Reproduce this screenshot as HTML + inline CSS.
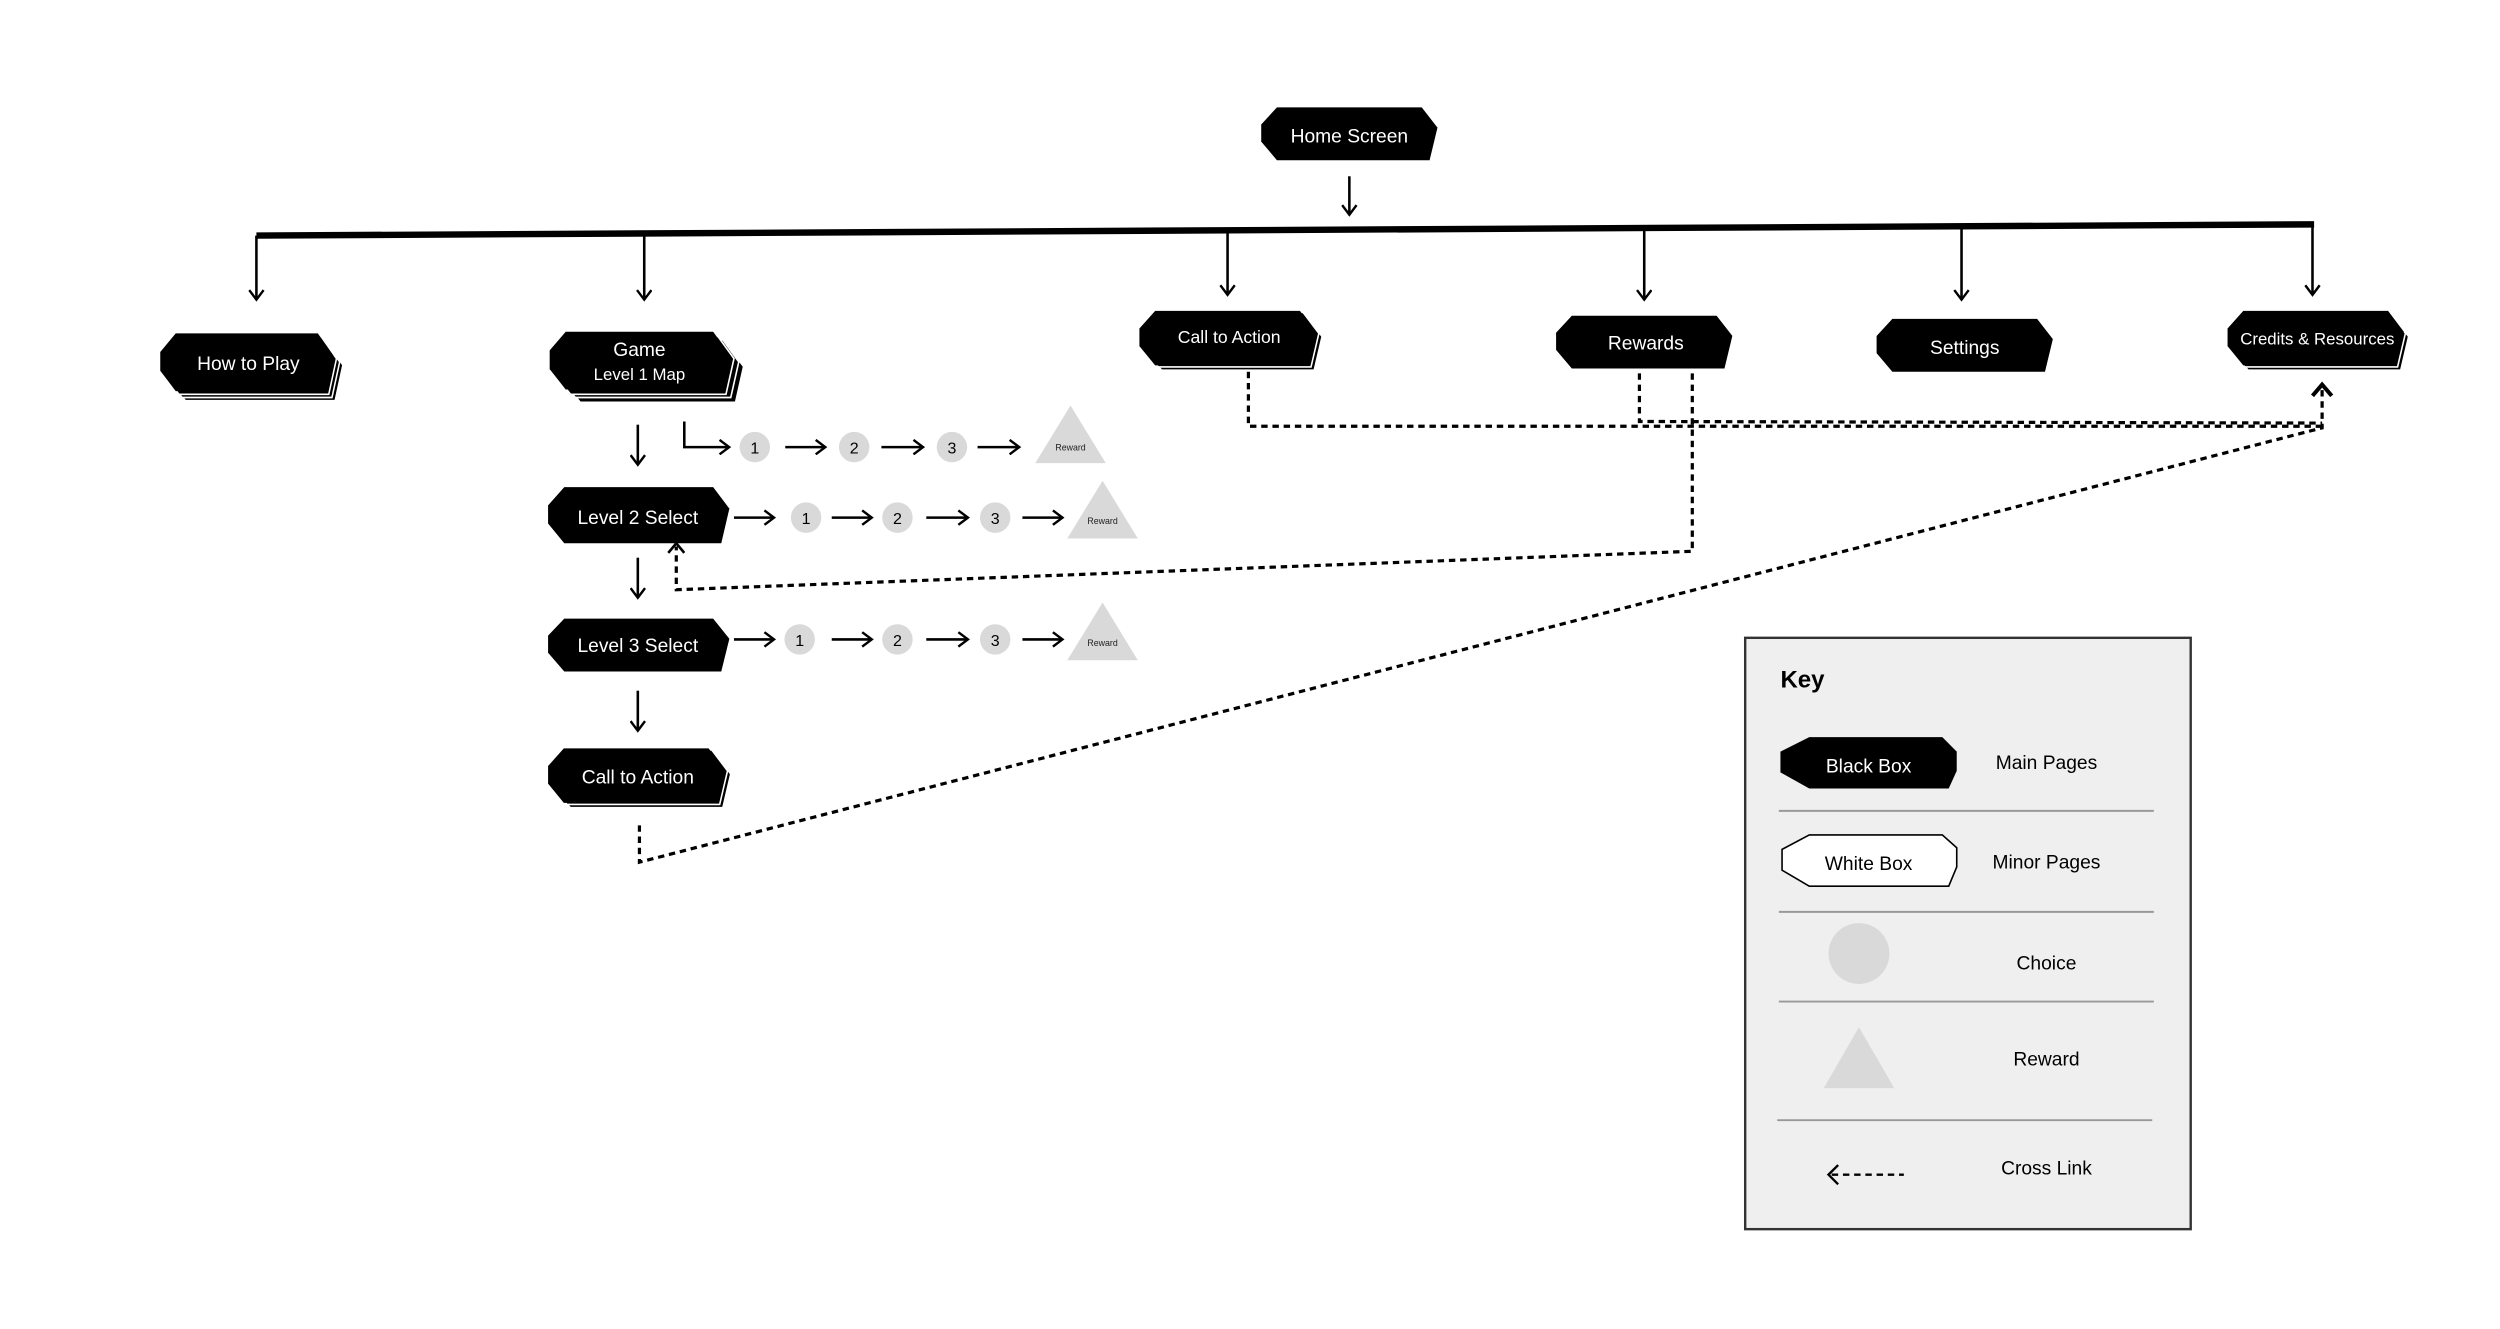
<!DOCTYPE html>
<html><head><meta charset="utf-8"><style>html,body{margin:0;padding:0;background:#fff}svg{display:block}text{font-family:"Liberation Sans",sans-serif}</style></head>
<body>
<svg width="2500" height="1329" viewBox="0 0 1560 829.3" xmlns="http://www.w3.org/2000/svg">
<defs>
<marker id="ah" markerWidth="10" markerHeight="10" refX="7" refY="5" orient="auto" markerUnits="userSpaceOnUse"><path d="M1,0.5 L7,5 L1,9.5" fill="none" stroke="#000" stroke-width="1.5"/></marker>
<marker id="ahb" markerWidth="12" markerHeight="12" refX="8" refY="6" orient="auto" markerUnits="userSpaceOnUse"><path d="M1,1 L8,6 L1,11" fill="none" stroke="#000" stroke-width="2"/></marker>
<polygon id="bx" points="10,0 102,0 112,13 107,34 10,34 0,22 0,11"/>
</defs>
<rect width="1560" height="830" fill="#fff"/>

<!-- bus -->
<path d="M160,147 L1444,140" stroke="#000" stroke-width="4" fill="none"/>
<g stroke="#000" stroke-width="1.6" fill="none" marker-end="url(#ah)">
<path d="M842,110 L842,134"/>
<path d="M160,147 L160,187"/>
<path d="M402,146 L402,187"/>
<path d="M766,144 L766,184"/>
<path d="M1026,143 L1026,187"/>
<path d="M1224,142 L1224,187"/>
<path d="M1443,140 L1443,184"/>
<path d="M398,265 L398,290"/>
<path d="M398,348 L398,373"/>
<path d="M398,431 L398,456"/>
<path d="M427,263 L427,279 L455,279"/>
<path d="M490,279 L515,279"/><path d="M550,279 L576,279"/><path d="M610,279 L636,279"/>
<path d="M458,323 L483,323"/><path d="M519,323 L544,323"/><path d="M578,323 L604,323"/><path d="M638,323 L663,323"/>
<path d="M458,399 L483,399"/><path d="M519,399 L544,399"/><path d="M578,399 L604,399"/><path d="M638,399 L663,399"/>
</g>

<!-- choice circles & rewards -->
<g fill="#d9d9d9">
<circle cx="471" cy="279" r="9.5"/><circle cx="533" cy="279" r="9.5"/><circle cx="594" cy="279" r="9.5"/>
<circle cx="503" cy="323" r="9.5"/><circle cx="560" cy="323" r="9.5"/><circle cx="621" cy="323" r="9.5"/>
<circle cx="499" cy="399" r="9.5"/><circle cx="560" cy="399" r="9.5"/><circle cx="621" cy="399" r="9.5"/>
<polygon points="668,253 690,289 646,289"/>
<polygon points="688,300 710,336 666,336"/>
<polygon points="688,376 710,412 666,412"/>
</g>
<g font-size="10" text-anchor="middle" fill="#000">
<text x="471" y="283">1</text><text x="533" y="283">2</text><text x="594" y="283">3</text>
<text x="503" y="327">1</text><text x="560" y="327">2</text><text x="621" y="327">3</text>
<text x="499" y="403">1</text><text x="560" y="403">2</text><text x="621" y="403">3</text>
</g>
<g font-size="5.5" text-anchor="middle" fill="#222">
<text x="668" y="281">Reward</text><text x="688" y="327">Reward</text><text x="688" y="403">Reward</text>
</g>

<!-- dashed cross links -->
<g stroke="#000" stroke-width="2" fill="none" stroke-dasharray="4,3">
<path d="M779,232 L779,266 L1449,266"/>
<path d="M1023,233 L1023,263 L1449,264"/>
<path d="M1056,233 L1056,344 L422,368 L422,341"/>
<path d="M399,515 L399,538 L1449,267 L1449,243"/>
</g>
<path d="M417,345 L422,339 L427,345" stroke="#000" stroke-width="1.6" fill="none"/>
<path d="M1443,247 L1449,240 L1455,247" stroke="#000" stroke-width="2.5" fill="none"/>

<!-- nodes -->
<g stroke="#fff" stroke-width="1" fill="#000">
<!-- shadows -->
<use href="#bx" transform="translate(106,214) scale(0.964,1.06)" vector-effect="non-scaling-stroke"/>
<use href="#bx" transform="translate(104,212) scale(0.964,1.06)"/>
<use href="#bx" transform="translate(102,210) scale(0.964,1.06)"/>
<use href="#bx" transform="translate(352,215) scale(1,1.06)"/>
<use href="#bx" transform="translate(349,212) scale(1,1.06)"/>
<use href="#bx" transform="translate(346,210) scale(1,1.06)"/>
<use href="#bx" transform="translate(715,197) scale(0.982,1)"/>
<use href="#bx" transform="translate(713,195) scale(0.982,1)"/>
<use href="#bx" transform="translate(1393,197) scale(0.982,1)"/>
<use href="#bx" transform="translate(1391,195) scale(0.982,1)"/>
<use href="#bx" transform="translate(346,470) scale(0.982,1)"/>
<use href="#bx" transform="translate(344,468) scale(0.982,1)"/>
</g>
<g fill="#000">
<use href="#bx" transform="translate(787,67) scale(0.982,0.97)"/>
<use href="#bx" transform="translate(100,208) scale(0.964,1.06)"/>
<use href="#bx" transform="translate(343,207) scale(1,1.06)"/>
<use href="#bx" transform="translate(711,194) scale(0.982,1)"/>
<use href="#bx" transform="translate(971,197) scale(0.982,0.97)"/>
<use href="#bx" transform="translate(1171,199) scale(0.982,0.97)"/>
<use href="#bx" transform="translate(1390,194) scale(0.982,1)"/>
<use href="#bx" transform="translate(342,304) scale(1.01,1.03)"/>
<use href="#bx" transform="translate(342,386) scale(1.01,0.97)"/>
<use href="#bx" transform="translate(342,467) scale(0.982,1)"/>
</g>
<g fill="#fff" font-size="12" text-anchor="middle">
<text x="842" y="89">Home Screen</text>
<text x="155" y="231">How to Play</text>
<text x="399" y="222">Game</text>
<text x="399" y="237" font-size="10.5">Level 1 Map</text>
<text x="767" y="214" font-size="11">Call to Action</text>
<text x="1027" y="218">Rewards</text>
<text x="1226" y="221">Settings</text>
<text x="1446" y="215" font-size="10.5">Credits &amp; Resources</text>
<text x="398" y="327">Level 2 Select</text>
<text x="398" y="407">Level 3 Select</text>
<text x="398" y="489">Call to Action</text>
</g>

<!-- key -->
<rect x="1089" y="398" width="278" height="369" fill="#efefef" stroke="#333" stroke-width="1.5"/>
<text x="1111" y="429" font-size="15" font-weight="bold">Key</text>
<g stroke="#999" stroke-width="1.2">
<line x1="1110" y1="506" x2="1344" y2="506"/>
<line x1="1110" y1="569" x2="1344" y2="569"/>
<line x1="1110" y1="625" x2="1344" y2="625"/>
<line x1="1109" y1="699" x2="1343" y2="699"/>
</g>
<polygon points="1129,460 1212,460 1221,469 1221,481 1216,492 1129,492 1111,482 1111,469" fill="#000"/>
<polygon points="1129,521 1212,521 1221,529 1221,541 1216,553 1129,553 1112,543 1112,530" fill="#fff" stroke="#000" stroke-width="1"/>
<circle cx="1160" cy="595" r="19" fill="#d9d9d9"/>
<polygon points="1160,641 1182,679 1138,679" fill="#d9d9d9"/>
<path d="M1147,727 L1141,733 L1147,739" stroke="#000" stroke-width="1.5" fill="none"/>
<path d="M1143,733 L1188,733" stroke="#000" stroke-width="1.5" stroke-dasharray="4,3"/>
<g font-size="12" text-anchor="middle" fill="#000">
<text x="1166" y="482" fill="#fff">Black Box</text>
<text x="1166" y="543">White Box</text>
<text x="1277" y="480">Main Pages</text>
<text x="1277" y="542">Minor Pages</text>
<text x="1277" y="605">Choice</text>
<text x="1277" y="665">Reward</text>
<text x="1277" y="733">Cross Link</text>
</g>
</svg>
</body></html>
